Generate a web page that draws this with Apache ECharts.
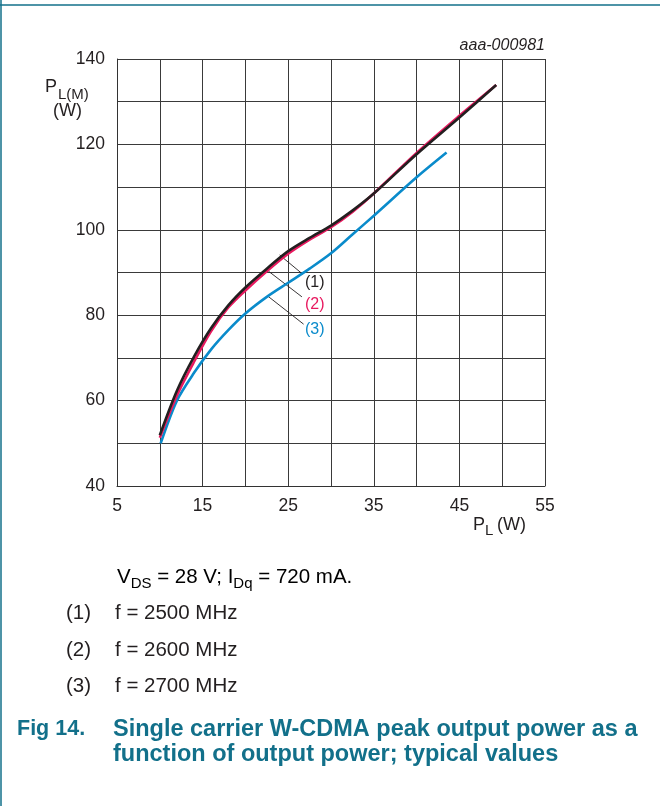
<!DOCTYPE html>
<html><head><meta charset="utf-8">
<script src="https://cdn.jsdelivr.net/npm/echarts@6/dist/echarts.min.js"></script>
<style>html,body{margin:0;padding:0;background:#fff}#c{width:660px;height:806px}</style>
</head><body><div id="c"></div>
<script>
// ---- data ----
const seriesNames = ['(1)', '(2)', '(3)'];
const curve1 = [[10,51.9],[12,62.3],[14,70.3],[16,77.0],[18,82.3],[20,86.5],[22.5,90.9],[25,95.0],[27.5,98.1],[30,101.0],[32.5,104.5],[35,108.5],[40,117.7],[45,126.3],[49.3,133.9]];
const curve2 = [[10,51.3],[12,61.2],[14,69.1],[16,76.3],[18,81.8],[20,85.8],[22.5,90.3],[25,94.4],[27.5,97.7],[30,100.6],[32.5,104.2],[35,108.5],[40,118.0],[45,126.7],[49.3,133.9]];
const curve3 = [[10.1,50],[12,60],[14,66.5],[16,72.0],[18,76.5],[20,80.4],[22.5,84.3],[25,87.6],[27.5,90.9],[30,94.5],[32.5,98.9],[35,103.3],[40,112.3],[43.5,118.1]];
const xLabelValues = [5, 15, 25, 35, 45, 55];
const yLabelValues = [40, 60, 80, 100, 120, 140];
const leaderLines = [[[24.0,94.1],[26.7,89.6]], [[22.7,90.3],[26.6,84.3]], [[22.6,84.5],[26.8,77.9]]];
const annotPos = [[28.1,87.6],[28.1,82.4],[28.1,76.7]];

const colors = ['#231f20', '#e8195f', '#0a8bcb'];
const textColor = '#231f20';
const teal = '#12708a';
const FF = '"Liberation Sans", Arial, Helvetica, sans-serif';

const chart = echarts.init(document.getElementById('c'), null, {renderer: 'canvas'});

function mkSeries(idx, data) {
  return {
    type: 'line', name: seriesNames[idx], data: data, smooth: 0.3, showSymbol: false,
    lineStyle: {color: colors[idx], width: 2.6}, z: 10 - idx,
    markLine: {
      silent: true, symbol: ['none', 'none'], animation: false,
      label: {show: false},
      lineStyle: {color: '#231f20', width: 0.9, type: 'solid'},
      data: [[{coord: leaderLines[idx][0]}, {coord: leaderLines[idx][1]}]]
    },
    markPoint: {
      silent: true, symbol: 'circle', symbolSize: 1, animation: false,
      itemStyle: {color: 'rgba(0,0,0,0)'},
      label: {show: true, position: 'inside', formatter: seriesNames[idx], color: colors[idx], fontSize: 16, fontFamily: FF},
      data: [{coord: annotPos[idx]}]
    }
  };
}

const sub = {fontSize: 15, lineHeight: 15, padding: [9, 0, 0, 0], verticalAlign: 'top', fontFamily: FF, color: textColor};
const nrm = {fontSize: 20.5, lineHeight: 23, verticalAlign: 'top', fontFamily: FF, color: textColor};

function txt(x, y, text) {
  return {type: 'text', left: x, top: y, style: {text: text, fill: textColor, font: '20.5px ' + FF}};
}

const option = {
  animation: false,
  backgroundColor: '#fff',
  grid: {left: 117, top: 59, width: 428, height: 427, show: false},
  xAxis: {
    type: 'value', min: 5, max: 55, interval: 5,
    axisLine: {show: true, onZero: false, lineStyle: {color: '#333', width: 1}},
    axisTick: {show: false},
    splitLine: {show: true, lineStyle: {color: '#3a3a3a', width: 1}},
    axisLabel: {formatter: v => xLabelValues.includes(v) ? String(v) : '', color: textColor, fontSize: 17.5, fontFamily: FF, margin: 11, showMinLabel: true, showMaxLabel: true}
  },
  yAxis: {
    type: 'value', min: 40, max: 140, interval: 10,
    axisLine: {show: true, onZero: false, lineStyle: {color: '#333', width: 1}},
    axisTick: {show: false},
    splitLine: {show: true, lineStyle: {color: '#3a3a3a', width: 1}},
    axisLabel: {formatter: v => yLabelValues.includes(v) ? String(v) : '', color: textColor, fontSize: 17.5, fontFamily: FF, margin: 12, showMinLabel: true, showMaxLabel: true}
  },
  series: [mkSeries(2, curve3), mkSeries(1, curve2), mkSeries(0, curve1)],
  graphic: [
    {type: 'line', shape: {x1: 0, y1: 5, x2: 660, y2: 5}, style: {stroke: teal, lineWidth: 1.5}},
    {type: 'line', shape: {x1: 1, y1: 0, x2: 1, y2: 806}, style: {stroke: teal, lineWidth: 1.5}},
    {type: 'text', right: 115, top: 38, style: {text: 'aaa-000981', fill: textColor, font: 'italic 16px ' + FF}},
    // y axis name
    {type: 'text', left: 45, top: 78, style: {text: 'P', fill: textColor, font: '18px ' + FF}},
    {type: 'text', left: 58, top: 87, style: {text: 'L(M)', fill: textColor, font: '15px ' + FF}},
    {type: 'text', left: 53, top: 102, style: {text: '(W)', fill: textColor, font: '18px ' + FF}},
    // x axis name
    {type: 'text', left: 473, top: 516, style: {text: 'P', fill: textColor, font: '18px ' + FF}},
    {type: 'text', left: 485, top: 523, style: {text: 'L', fill: textColor, font: '15px ' + FF}},
    {type: 'text', left: 497, top: 516, style: {text: '(W)', fill: textColor, font: '18px ' + FF}},
    // notes
    {type: 'text', left: 117, top: 567, style: {text: '{n|V}{s|DS}{n| = 28 V; I}{s|Dq}{n| = 720 mA.}', rich: {n: nrm, s: sub}}},
    txt(66, 603, '(1)'), txt(115, 603, 'f = 2500 MHz'),
    txt(66, 640, '(2)'), txt(115, 640, 'f = 2600 MHz'),
    txt(66, 676, '(3)'), txt(115, 676, 'f = 2700 MHz'),
    {type: 'text', left: 17, top: 718, style: {text: 'Fig 14.', fill: teal, font: 'bold 21.5px ' + FF}},
    {type: 'text', left: 113, top: 718, style: {text: 'Single carrier W-CDMA peak output power as a', fill: teal, font: 'bold 23.5px ' + FF}},
    {type: 'text', left: 113, top: 743, style: {text: 'function of output power; typical values', fill: teal, font: 'bold 23.5px ' + FF}}
  ]
};
chart.setOption(option);
</script>
</body></html>
